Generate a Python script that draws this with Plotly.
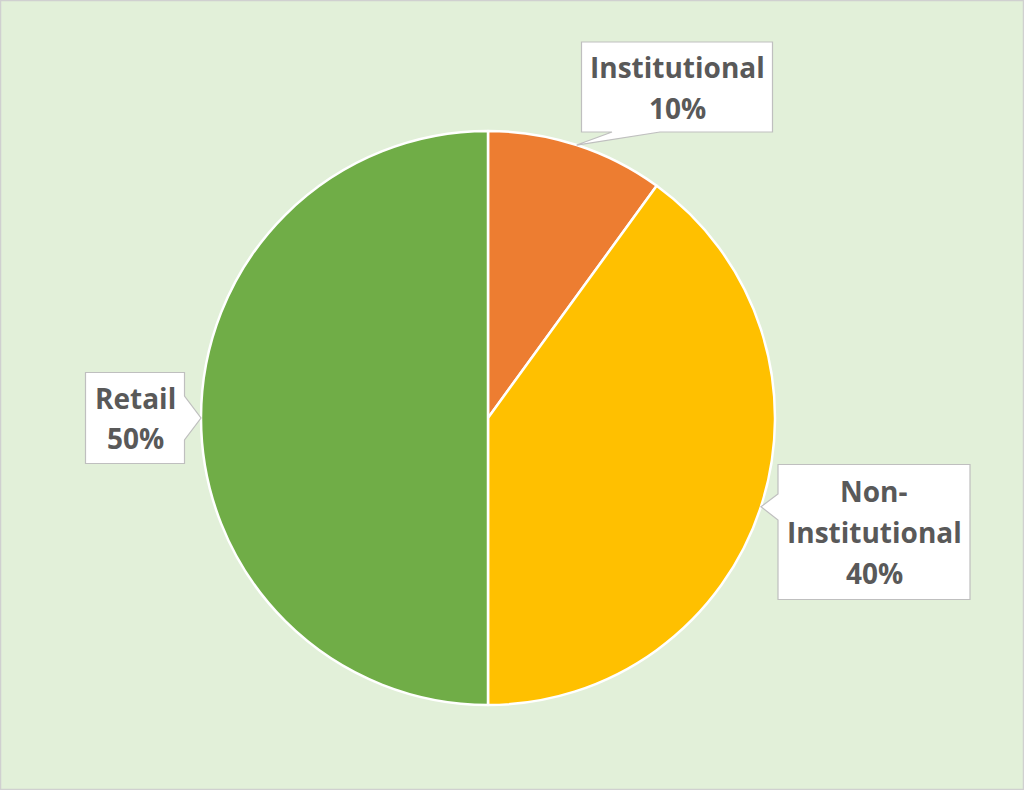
import math
import plotly.graph_objects as go

# data
categories = ["Institutional", "Non-Institutional", "Retail"]
values = [10, 40, 50]
label_lines = [["Institutional", "10%"], ["Non-", "Institutional", "40%"], ["Retail", "50%"]]
colors = ["#ED7D31", "#FFC000", "#70AD47"]

W, H = 1024, 790
cx, cy, r = 488, 418, 287  # pie centre/radius in pixels
line_gap = 41

def px(x, y):
    return x / W, 1 - y / H

# callout boxes: (centre x, centre y, width, height) and wedge base along which edge
boxes = [
    (677, 87, 191, 90, "bottom", (612, 660)),
    (874, 532, 192, 135, "left", (494, 520)),
    (135, 418, 99, 91, "right", (396, 440)),
]

fig = go.Figure()
fig.add_trace(go.Pie(
    labels=categories,
    values=values,
    sort=False,
    direction="clockwise",
    rotation=0,
    marker=dict(colors=colors, line=dict(color="white", width=2.5)),
    textinfo="none",
    hoverinfo="label+percent",
    showlegend=False,
    domain=dict(x=[(cx - r) / W, (cx + r) / W], y=[1 - (cy + r) / H, 1 - (cy - r) / H]),
))

shapes = []
annotations = []
total = sum(values)
start = 0
for i, v in enumerate(values):
    mid = (start + v / 2) / total * 2 * math.pi
    start += v
    tx = cx + r * math.sin(mid)
    ty = cy - r * math.cos(mid)
    bx, by, bw, bh, side, (a, b) = boxes[i]
    x0, x1, y0, y1 = bx - bw / 2, bx + bw / 2, by - bh / 2, by + bh / 2
    if side == "bottom":
        pts = [(x0, y0), (x1, y0), (x1, y1), (b, y1), (tx, ty), (a, y1), (x0, y1)]
    elif side == "left":
        pts = [(x0, y0), (x1, y0), (x1, y1), (x0, y1), (x0, b), (tx, ty), (x0, a)]
    else:
        pts = [(x0, y0), (x1, y0), (x1, a), (tx, ty), (x1, b), (x1, y1), (x0, y1)]
    path = "M " + " L ".join("%.5f,%.5f" % px(*p) for p in pts) + " Z"
    shapes.append(dict(type="path", path=path, xref="paper", yref="paper",
                       fillcolor="white", line=dict(color="#BFBFBF", width=1.2), layer="above"))
    lines = label_lines[i]
    for j, line in enumerate(lines):
        ly = by + (j - (len(lines) - 1) / 2) * line_gap
        ax, ay = px(bx, ly)
        annotations.append(dict(x=ax, y=ay, xref="paper", yref="paper", text="<b>%s</b>" % line,
                                showarrow=False, xanchor="center", yanchor="middle",
                                font=dict(family="Open Sans", size=28, color="#595959")))

shapes.append(dict(type="rect", xref="paper", yref="paper", x0=0.0005, y0=0.0005, x1=0.9995, y1=0.9995,
                   line=dict(color="#D0D0D0", width=1.5), layer="below"))

fig.update_layout(
    width=W, height=H,
    margin=dict(l=0, r=0, t=0, b=0),
    paper_bgcolor="#E2F0D9",
    plot_bgcolor="#E2F0D9",
    shapes=shapes,
    annotations=annotations,
)

fig.write_html("out.html", config={"displayModeBar": False},
               post_script="document.body.style.margin='0';document.body.style.overflow='hidden';")
